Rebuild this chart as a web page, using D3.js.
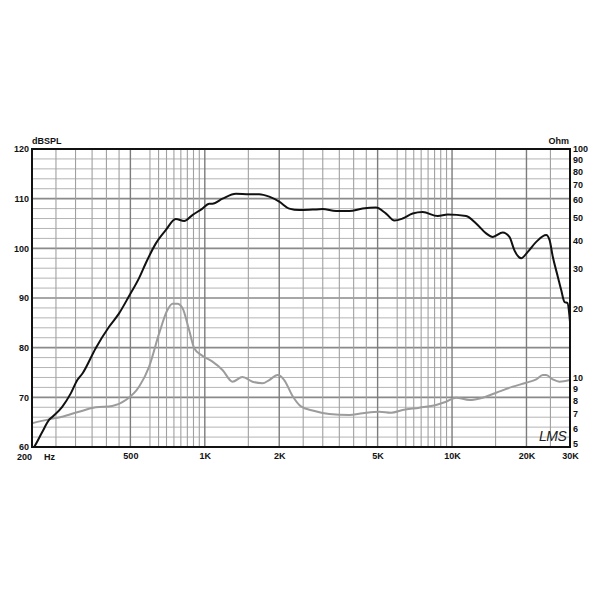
<!DOCTYPE html>
<html>
<head>
<meta charset="utf-8">
<script src="https://cdn.jsdelivr.net/npm/d3@7"></script>
<style>
  html, body { margin: 0; padding: 0; background: #fff; }
  svg { display: block; }
  text { font-family: Arial, "Liberation Sans", sans-serif; }
</style>
</head>
<body>
<svg id="chart" width="600" height="600"></svg>
<script>
// ---- Data ----
// SPL response (black): frequency in Hz, level in dB SPL
const splFreq = [200, 204, 220, 234, 242, 265, 287, 305, 320, 362, 410, 450, 494, 542, 577, 634, 696, 763, 825, 891, 978, 1041, 1074, 1179, 1336, 1512, 1660, 1822, 2000, 2196, 2410, 2728, 2994, 3394, 3840, 4348, 4926, 5408, 5844, 6312, 6930, 7608, 8750, 9604, 11400, 12514, 13736, 14608, 16034, 17066, 17880, 19034, 20245, 21900, 24040, 24790, 25560, 26780, 27640, 28500, 29300, 30000];
const splDb   = [59.4, 60.0, 63.0, 65.4, 66.1, 68.1, 70.8, 73.5, 74.8, 79.9, 84.2, 86.9, 90.4, 94.0, 97.0, 101.0, 103.7, 105.9, 105.5, 106.7, 108.0, 109.0, 109.0, 110.0, 111.0, 110.9, 110.9, 110.4, 109.4, 108.0, 107.7, 107.8, 107.9, 107.5, 107.5, 108.0, 108.2, 107.0, 105.6, 106.0, 107.0, 107.3, 106.5, 106.8, 106.5, 105.0, 103.0, 102.3, 103.2, 102.3, 99.6, 98.0, 99.3, 101.3, 102.7, 101.7, 98.3, 94.3, 91.6, 89.2, 89.0, 85.2];

// Impedance (grey): frequency in Hz, impedance in Ohm
const impFreq = [200, 234, 265, 310, 362, 422, 479, 542, 595, 654, 706, 740, 775, 812, 864, 906, 978, 1074, 1179, 1294, 1420, 1559, 1712, 1822, 1968, 2095, 2264, 2448, 2728, 3188, 3840, 4348, 5080, 5666, 6312, 7378, 8620, 9462, 10386, 11754, 13310, 15082, 17600, 19945, 21900, 23280, 24040, 25560, 27200, 30000];
const impOhm  = [6.35, 6.6, 6.78, 7.13, 7.45, 7.55, 8.02, 9.17, 11.2, 15.7, 19.8, 21.1, 21.1, 20.2, 16.2, 13.5, 12.5, 11.8, 10.85, 9.64, 10.1, 9.64, 9.49, 9.8, 10.3, 9.8, 8.35, 7.52, 7.22, 6.97, 6.9, 7.02, 7.13, 7.06, 7.25, 7.42, 7.63, 7.88, 8.21, 8.02, 8.21, 8.63, 9.17, 9.54, 9.87, 10.3, 10.3, 9.87, 9.64, 9.8];

// Axis ticks & labels
const dbTicks = [60, 70, 80, 90, 100, 110, 120];
const dbMinorTicks = [62, 64, 66, 68, 72, 74, 76, 78, 82, 84, 86, 88, 92, 94, 96, 98, 102, 104, 106, 108, 112, 114, 116, 118];
const ohmTicks = [5, 6, 7, 8, 9, 10, 20, 30, 40, 50, 60, 70, 80, 90, 100];
const freqLabelTicks = [500, 1000, 2000, 5000, 10000, 20000, 30000];
const freqLabels = ["500", "1K", "2K", "5K", "10K", "20K", "30K"];
const freqGrid = [250, 300, 350, 400, 450, 500, 600, 650, 700, 750, 800, 850, 900, 950, 1000,
                  1500, 2000, 2500, 3000, 3500, 4000, 4500, 5000, 6000, 6500, 7000, 7500, 8000, 8500, 9000, 9500, 10000,
                  15000, 20000, 25000];
const freqMajorGrid = [500, 1000, 2000, 5000, 10000, 20000];

// ---- Layout ----
const L = 32, R = 570, T = 149, B = 447;
const svg = d3.select("#chart");

const x = d3.scaleLog().domain([200, 30000]).range([L, R]);
const yL = d3.scaleLinear().domain([60, 120]).range([B, T]);
const yR = d3.scaleLog().domain([5, 100]).range([B, T]);

// grid
const grid = svg.append("g");
grid.selectAll("line.hmin").data(dbMinorTicks).join("line")
  .attr("x1", L).attr("x2", R)
  .attr("y1", d => yL(d)).attr("y2", d => yL(d))
  .attr("stroke", "#b4b4b4").attr("stroke-width", 1);
grid.selectAll("line.hmaj").data(dbTicks.slice(1, -1)).join("line")
  .attr("x1", L).attr("x2", R)
  .attr("y1", d => yL(d)).attr("y2", d => yL(d))
  .attr("stroke", "#8a8a8a").attr("stroke-width", 1.6);
grid.selectAll("line.v").data(freqGrid).join("line")
  .attr("x1", d => x(d)).attr("x2", d => x(d))
  .attr("y1", T).attr("y2", B)
  .attr("stroke", d => freqMajorGrid.includes(d) ? "#7c7c7c" : "#a0a0a0")
  .attr("stroke-width", d => freqMajorGrid.includes(d) ? 1.4 : 1.1);

// curves
const splData = splFreq.map((f, i) => [f, splDb[i]]);
const impData = impFreq.map((f, i) => [f, impOhm[i]]);

svg.append("defs").append("clipPath").attr("id", "clip")
  .append("rect").attr("x", L).attr("y", T).attr("width", R - L).attr("height", B - T);

svg.append("path")
  .datum(impData)
  .attr("clip-path", "url(#clip)")
  .attr("fill", "none").attr("stroke", "#9c9c9c").attr("stroke-width", 2)
  .attr("d", d3.line().x(d => x(d[0])).y(d => yR(d[1])).curve(d3.curveMonotoneX));

svg.append("path")
  .datum(splData)
  .attr("clip-path", "url(#clip)")
  .attr("fill", "none").attr("stroke", "#111").attr("stroke-width", 2)
  .attr("d", d3.line().x(d => x(d[0])).y(d => yL(d[1])).curve(d3.curveMonotoneX));

// frame
svg.append("rect").attr("x", L).attr("y", T).attr("width", R - L).attr("height", B - T)
  .attr("fill", "none").attr("stroke", "#111").attr("stroke-width", 2);

// axes
const fontStyle = sel => sel.selectAll("text")
  .attr("font-size", 9).attr("font-weight", "bold").attr("fill", "#111")
  .attr("font-family", "Arial, 'Liberation Sans', sans-serif");

const axL = svg.append("g").attr("transform", `translate(${L},0)`)
  .call(d3.axisLeft(yL).tickValues(dbTicks).tickSize(0).tickPadding(3));
axL.select(".domain").remove();
fontStyle(axL);

const axR = svg.append("g").attr("transform", `translate(${R},0)`)
  .call(d3.axisRight(yR).tickValues(ohmTicks).tickFormat(d3.format("d")).tickSize(0).tickPadding(3));
axR.select(".domain").remove();
fontStyle(axR);
// lowest ohm label sits just above the frequency labels
axR.selectAll(".tick").filter(d => d === 5).select("text").attr("dy", "-0.05em");

const axB = svg.append("g").attr("transform", `translate(0,${B})`)
  .call(d3.axisBottom(x).tickValues(freqLabelTicks)
    .tickFormat((d, i) => freqLabels[i]).tickSize(0).tickPadding(6));
axB.select(".domain").remove();
fontStyle(axB);

// 200 Hz label
const hz = svg.append("g").attr("font-size", 9).attr("font-weight", "bold").attr("fill", "#111");
hz.append("text").attr("x", x(200)).attr("y", B + 12.5).attr("text-anchor", "end").text("200");
hz.append("text").attr("x", x(200) + 12).attr("y", B + 12.5).attr("text-anchor", "start").text("Hz");

// axis titles
svg.append("text").attr("x", L).attr("y", T - 5)
  .attr("font-size", 9).attr("font-weight", "bold").attr("fill", "#111").text("dBSPL");
svg.append("text").attr("x", R - 1).attr("y", T - 5).attr("text-anchor", "end")
  .attr("font-size", 9).attr("font-weight", "bold").attr("fill", "#111").text("Ohm");

// signature
svg.append("text").attr("x", 539).attr("y", 441)
  .attr("font-size", 14).attr("font-style", "italic").attr("fill", "#222")
  .attr("font-family", "'DejaVu Sans', sans-serif").attr("font-weight", 200)
  .attr("letter-spacing", "-0.5")
  .text("LMS");
</script>
</body>
</html>
